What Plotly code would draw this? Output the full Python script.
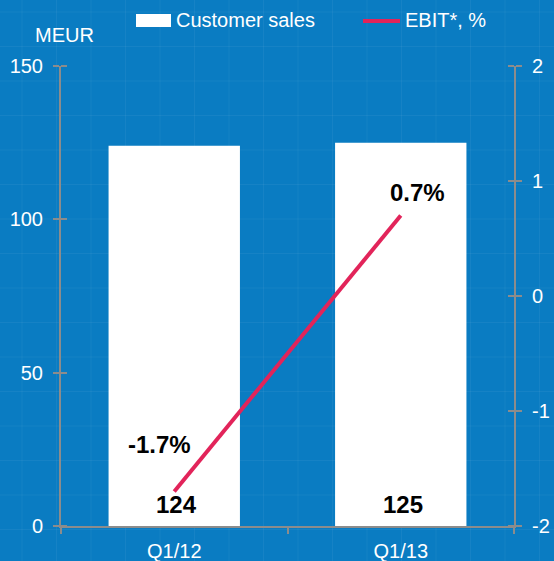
import plotly.graph_objects as go

categories = ["Q1/12", "Q1/13"]
sales = [124, 125]
ebit = [-1.7, 0.7]
ebit_labels = ["-1.7%", "0.7%"]
left_ticks = [0, 50, 100, 150]
right_ticks = [-2, -1, 0, 1, 2]
right_tick_text = ["-2", "-1", "0", "1", "2"]

BG = "#0A7CC2"
AX = "#8C8C8C"
RED = "#E2245A"
FONT = "Liberation Sans, Arial, sans-serif"

W, H = 554, 561
L, R, T, B = 61, 40, 66, 35
pw, ph = W - L - R, H - T - B

def px_x(p):
    return (p - L) / pw

def px_y(p):
    return (H - B - p) / ph

fig = go.Figure()
fig.add_trace(go.Bar(x=categories, y=sales, marker=dict(color="white", line=dict(width=0)),
                     width=0.58, showlegend=False, hoverinfo="skip"))
fig.add_trace(go.Scatter(x=categories, y=ebit, yaxis="y2", mode="lines",
                         line=dict(color=RED, width=4), showlegend=False))

shapes = []
# faint background grid pattern
for i in range(17):
    xp = 22 + 34.5 * i
    shapes.append(dict(type="line", xref="paper", yref="paper", x0=px_x(xp), x1=px_x(xp),
                       y0=px_y(H), y1=px_y(0), line=dict(color="rgba(255,255,255,0.05)", width=1),
                       layer="below"))
for i in range(17):
    yp = 12 + 34.5 * i
    shapes.append(dict(type="line", xref="paper", yref="paper", x0=px_x(0), x1=px_x(W),
                       y0=px_y(yp), y1=px_y(yp), line=dict(color="rgba(255,255,255,0.05)", width=1),
                       layer="below"))
# legend swatches
shapes.append(dict(type="rect", xref="paper", yref="paper", x0=px_x(136), x1=px_x(171),
                   y0=px_y(27), y1=px_y(14), fillcolor="white", line=dict(width=0)))
shapes.append(dict(type="line", xref="paper", yref="paper", x0=px_x(363), x1=px_x(400),
                   y0=px_y(21), y1=px_y(21), line=dict(color=RED, width=4)))

annotations = [
    dict(text="Customer sales", xref="paper", yref="paper", x=px_x(174), y=px_y(20),
         xanchor="left", yanchor="middle", showarrow=False, font=dict(size=20, color="white", family=FONT)),
    dict(text="EBIT*, %", xref="paper", yref="paper", x=px_x(403), y=px_y(20),
         xanchor="left", yanchor="middle", showarrow=False, font=dict(size=20, color="white", family=FONT)),
    dict(text="MEUR", xref="paper", yref="paper", x=px_x(64), y=px_y(35),
         xanchor="center", yanchor="middle", showarrow=False, font=dict(size=20, color="white", family=FONT)),
]
for c, v in zip(categories, sales):
    annotations.append(dict(text=f"<b>{v}</b>", x=c, y=0, xref="x", yref="y", yanchor="bottom",
                            yshift=6, xshift=2, showarrow=False, font=dict(size=24, color="black", family=FONT)))
shifts = [(-15, 47), (17, 23)]
for c, v, t, (xs, ys) in zip(categories, ebit, ebit_labels, shifts):
    annotations.append(dict(text=f"<b>{t}</b>", x=c, y=v, xref="x", yref="y2", xshift=xs, yshift=ys,
                            showarrow=False, font=dict(size=24, color="black", family=FONT)))

axis_common = dict(showgrid=False, showline=True, linecolor=AX, linewidth=2, ticks="outside",
                   tickcolor=AX, ticklen=6, tickwidth=2, tickfont=dict(size=20, color="white"),
                   ticklabelstandoff=6, zeroline=False, automargin=False)

fig.update_layout(
    width=W, height=H, margin=dict(l=L, r=R, t=T, b=B, pad=0, autoexpand=False),
    paper_bgcolor=BG, plot_bgcolor=BG,
    font=dict(family=FONT, color="white", size=20),
    xaxis=dict(tickson="boundaries", **axis_common),
    yaxis=dict(range=[0, 150], tickvals=left_ticks,
               minor=dict(tickvals=left_ticks, ticks="inside", ticklen=6, tickcolor=AX, tickwidth=2,
                          showgrid=False),
               **axis_common),
    yaxis2=dict(range=[-2, 2], tickvals=right_ticks, ticktext=right_tick_text, overlaying="y",
                side="right",
                minor=dict(tickvals=right_ticks, ticks="inside", ticklen=6, tickcolor=AX, tickwidth=2,
                           showgrid=False),
                **axis_common),
    shapes=shapes, annotations=annotations, showlegend=False,
)

fig.write_html("out.html", config={"displayModeBar": False},
               post_script="document.body.style.margin='0';document.body.style.padding='0';document.documentElement.style.background='" + BG + "';")
